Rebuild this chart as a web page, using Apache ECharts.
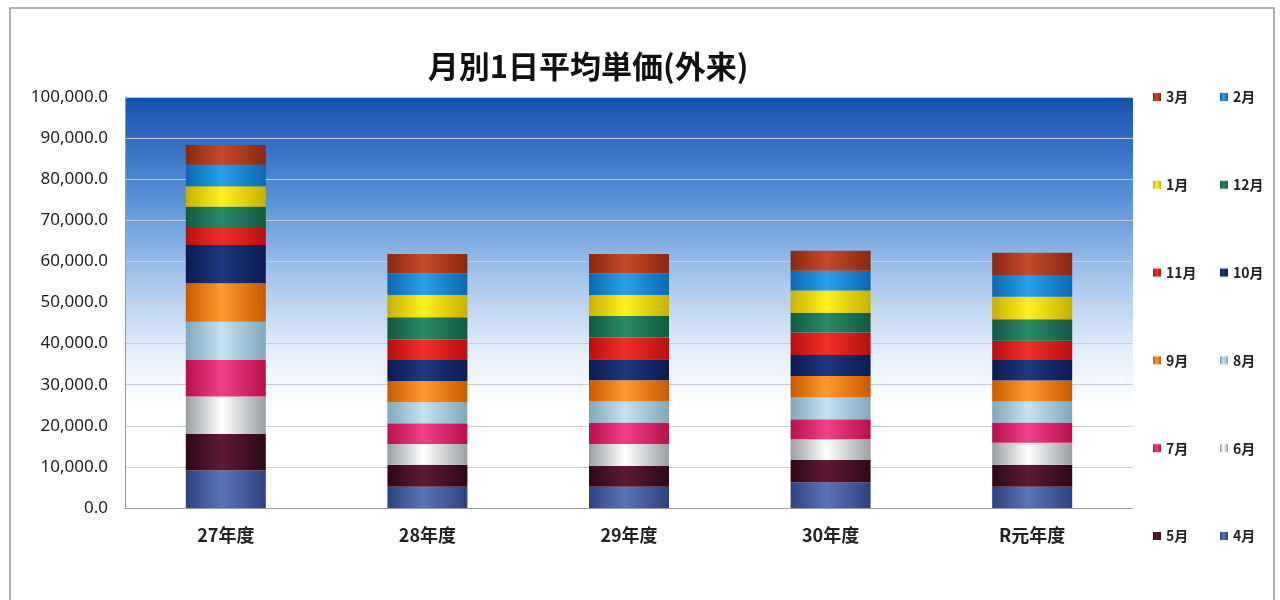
<!DOCTYPE html>
<html>
<head>
<meta charset="utf-8">
<script src="https://cdn.jsdelivr.net/npm/echarts@6/dist/echarts.min.js"></script>
<style>
  html, body { margin: 0; padding: 0; background: #fff; }
  #main { width: 1280px; height: 600px; }
</style>
</head>
<body>
<div id="main"></div>
<script>
// categories (fiscal years)
var years = ['27年度', '28年度', '29年度', '30年度', 'R元年度'];
var months = ['4月', '5月', '6月', '7月', '8月', '9月', '10月', '11月', '12月', '1月', '2月', '3月'];

// values per month, one per fiscal year
var apr = [9100, 5200, 5200, 6200, 5200];
var may = [8900, 5300, 5000, 5500, 5300];
var jun = [9100, 5100, 5400, 5000, 5400];
var jul = [8900, 5000, 5200, 4900, 4900];
var aug = [9300, 5100, 5100, 5300, 5100];
var sep = [9400, 5200, 5200, 5200, 5100];
var oct = [9300, 5100, 5100, 5100, 5000];
var nov = [4400, 5000, 5300, 5500, 4700];
var dec = [4900, 5400, 5200, 4800, 5200];
var jan = [5000, 5400, 5100, 5400, 5500];
var feb = [5200, 5300, 5300, 4800, 5300];
var mar = [4800, 4700, 4700, 4900, 5400];

var yTicks = [0, 10000, 20000, 30000, 40000, 50000, 60000, 70000, 80000, 90000, 100000];

var monthData = [apr, may, jun, jul, aug, sep, oct, nov, dec, jan, feb, mar];

// edge, middle colours per month (cylinder look)
var colors = [
  ['#2e4282', '#5a74b8'],
  ['#2e0818', '#5e1a34'],
  ['#9a9fa3', '#ffffff'],
  ['#b8104e', '#f0408a'],
  ['#7fa8bc', '#c4e2f2'],
  ['#c85a00', '#ff9a30'],
  ['#0c1a50', '#1e3880'],
  ['#b80e12', '#f03028'],
  ['#125a40', '#2a8a66'],
  ['#c8b000', '#fff020'],
  ['#0c68b0', '#28a0ec'],
  ['#8a2810', '#c44a2c']
];

function cyl(c) {
  return new echarts.graphic.LinearGradient(0, 0, 1, 0, [
    { offset: 0, color: c[0] },
    { offset: 0.45, color: c[1] },
    { offset: 1, color: c[0] }
  ]);
}

var series = months.map(function (m, i) {
  return {
    name: m,
    type: 'bar',
    stack: 'total',
    barWidth: 80,
    itemStyle: { color: cyl(colors[i]) },
    data: monthData[i]
  };
});

var legendStyle = {
  orient: 'vertical',
  top: 85,
  itemGap: 73.8,
  itemWidth: 8,
  itemHeight: 8,
  icon: 'rect',
  textStyle: { fontSize: 14, color: '#222', fontWeight: 'bold', fontFamily: 'Noto Sans CJK JP' }
};

var myChart = echarts.init(document.getElementById('main'));
var option = {
  animation: false,
  backgroundColor: '#fff',
  color: colors.map(function (c) { return c[1]; }),
  title: {
    text: '月別1日平均単価(外来)',
    left: 583,
    textAlign: 'center',
    top: 46,
    textStyle: { fontSize: 31, fontWeight: 'bold', color: '#111', fontFamily: 'Noto Sans CJK JP' }
  },
  legend: [
    Object.assign({ left: 1148, data: ['3月', '1月', '11月', '9月', '7月', '5月'] }, legendStyle),
    Object.assign({ left: 1215, data: ['2月', '12月', '10月', '8月', '6月', '4月'] }, legendStyle)
  ],
  grid: {
    left: 125,
    right: 147,
    top: 97,
    bottom: 92,
    show: true,
    borderWidth: 0,
    backgroundColor: new echarts.graphic.LinearGradient(0, 0, 0, 1, [
      { offset: 0, color: '#1650b0' },
      { offset: 0.25, color: '#5a92d8' },
      { offset: 0.45, color: '#a8c8ec' },
      { offset: 0.62, color: '#e4eefa' },
      { offset: 0.75, color: '#ffffff' },
      { offset: 1, color: '#ffffff' }
    ])
  },
  xAxis: {
    type: 'category',
    data: years,
    axisLine: { lineStyle: { color: '#999' } },
    axisTick: { show: false },
    axisLabel: { margin: 18, fontSize: 18, color: '#222', fontWeight: 'bold', fontFamily: 'Noto Sans CJK JP' }
  },
  yAxis: {
    type: 'value',
    min: yTicks[0],
    max: yTicks[yTicks.length - 1],
    interval: 10000,
    axisLine: { show: true, lineStyle: { color: '#999' } },
    axisTick: { show: false },
    splitLine: { lineStyle: { color: '#c4ccd6' } },
    axisLabel: {
      margin: 17,
      fontSize: 17,
      color: '#222',
      fontFamily: 'Noto Sans',
      formatter: function (v) {
        return v.toLocaleString('en-US', { minimumFractionDigits: 1, maximumFractionDigits: 1 });
      }
    }
  },
  graphic: [{
    type: 'rect',
    shape: { x: 10, y: 8, width: 1264, height: 600 },
    style: { fill: 'none', stroke: '#999', lineWidth: 1.5 },
    silent: true
  }],
  series: series
};
myChart.setOption(option, true);
</script>
</body>
</html>
